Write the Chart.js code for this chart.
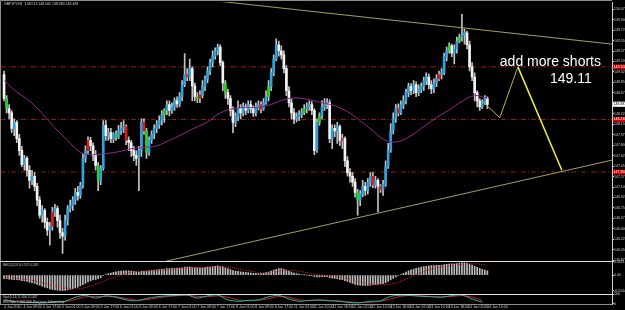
<!DOCTYPE html>
<html><head><meta charset="utf-8">
<script src="https://cdn.jsdelivr.net/npm/chart.js@4/dist/chart.umd.min.js"></script>
<style>html,body{margin:0;padding:0;background:#000;overflow:hidden}canvas{display:block}</style>
</head><body>
<div style="width:625px;height:310px"><canvas id="c" width="625" height="310"></canvas></div>
<script>
const symbolTitle = "GBPJPY,H1  148.513 148.565 148.380 148.483";
const macdTitle = "MACD(12,26,9) 0.1371 0.2085";
const stochTitle = "Stoch(5,3,3) 11.9166 15.1487";
const copyright = "MetaTrader \u00A9 2001-2009 MetaQuotes Software Corp.";

const firstOpen = 148.98;
const closes = [
148.58,148.41,148.34,148.08,148.18,147.91,147.71,147.48,147.58,147.38,
147.21,147.28,147.11,146.88,146.63,146.71,146.51,146.38,146.44,146.68,
146.74,146.54,146.34,146.28,146.54,146.74,146.79,146.88,147.01,146.96,
147.13,147.58,147.71,147.88,147.79,147.63,147.46,147.21,147.41,148.13,
147.96,148.01,147.91,147.98,147.94,148.04,148.08,148.11,147.88,147.84,
147.71,147.63,147.58,147.71,148.18,148.04,147.68,147.88,147.98,148.08,
148.14,148.21,148.31,148.38,148.48,148.38,148.44,148.54,148.49,148.61,
148.81,148.98,148.94,149.08,148.79,148.61,148.58,148.64,148.78,148.91,
149.04,149.18,149.29,149.38,149.44,149.18,148.84,148.68,148.58,148.38,
148.18,148.28,148.41,148.34,148.44,148.38,148.48,148.41,148.34,148.44,
148.48,148.41,148.51,148.61,148.78,149.01,149.24,149.48,149.38,149.31,
149.08,148.71,148.51,148.34,148.24,148.28,148.31,148.34,148.41,148.44,
148.48,148.38,147.71,148.18,148.29,148.44,148.48,148.51,147.91,148.08,
148.04,148.11,147.88,147.91,147.54,147.34,147.28,147.18,147.01,146.88,
146.98,147.11,147.04,147.18,147.28,147.14,147.21,147.11,147.06,147.14,
147.44,147.71,148.04,148.24,148.41,148.34,148.48,148.54,148.68,148.78,
148.71,148.81,148.68,148.74,148.78,148.88,148.94,148.81,148.74,148.84,
148.91,148.98,149.01,149.28,149.38,149.46,149.34,149.41,149.54,149.61,
149.64,149.68,149.48,149.11,148.94,148.68,148.54,148.44,148.51,148.58,
148.48];
const highs = [
149.04,148.63,148.48,148.38,148.24,148.21,147.98,147.78,147.63,147.61,
147.46,147.38,147.34,147.16,146.94,146.79,146.74,146.58,146.51,146.76,
146.81,146.78,146.63,146.41,146.63,146.79,146.88,146.94,147.08,147.11,
147.18,147.66,147.79,147.94,147.93,147.84,147.71,147.51,147.46,148.21,
148.21,148.08,148.08,148.01,148.04,148.13,148.18,148.21,148.14,147.94,
147.88,147.78,147.71,147.78,148.24,148.24,148.08,147.94,148.04,148.14,
148.21,148.29,148.38,148.41,148.54,148.54,148.51,148.59,148.61,148.68,
148.88,149.33,149.08,149.24,149.11,148.84,148.68,148.71,148.88,148.96,
149.11,149.24,149.38,149.43,149.49,149.48,149.21,148.88,148.74,148.63,
148.44,148.34,148.54,148.48,148.51,148.49,148.54,148.54,148.46,148.51,
148.54,148.53,148.58,148.71,148.88,149.08,149.31,149.58,149.54,149.46,
149.38,149.13,148.78,148.58,148.41,148.34,148.38,148.41,148.48,148.51,
148.54,148.53,148.41,148.24,148.34,148.54,148.58,148.58,148.56,148.14,
148.14,148.18,148.14,147.98,147.94,147.61,147.41,147.34,147.24,147.06,
147.04,147.21,147.18,147.24,147.34,147.34,147.28,147.24,147.14,147.21,
147.54,147.83,148.16,148.34,148.48,148.49,148.54,148.63,148.74,148.84,
148.83,148.88,148.86,148.81,148.84,148.94,149.01,148.99,148.88,148.91,
148.98,149.04,149.08,149.34,149.44,149.51,149.49,149.48,149.61,149.66,
149.99,149.74,149.71,149.54,149.18,149.01,148.71,148.58,148.56,148.63,
148.61];
const lows = [
148.54,148.34,148.24,148.01,147.96,147.84,147.63,147.44,147.38,147.28,
147.08,147.14,147.04,146.79,146.58,146.51,146.41,146.29,146.13,146.38,
146.61,146.43,146.24,145.99,146.21,146.46,146.68,146.71,146.81,146.88,
146.91,147.08,147.51,147.66,147.71,147.54,147.38,147.04,147.14,147.38,
147.88,147.88,147.84,147.84,147.88,147.91,147.98,148.01,147.81,147.71,
147.61,147.54,147.46,147.04,147.61,147.98,147.58,147.63,147.83,147.91,
148.01,148.08,148.14,148.18,148.31,148.29,148.33,148.38,148.43,148.44,
148.54,148.78,148.88,148.88,148.54,148.54,148.51,148.51,148.59,148.71,
148.84,148.98,149.11,149.24,149.31,149.13,148.71,148.58,148.48,148.29,
148.01,148.11,148.21,148.24,148.29,148.31,148.34,148.34,148.28,148.29,
148.39,148.34,148.38,148.48,148.54,148.71,148.96,149.21,149.29,149.24,
149.01,148.63,148.44,148.24,148.16,148.19,148.21,148.26,148.31,148.34,
148.38,148.31,147.64,147.68,148.13,148.24,148.38,148.41,147.84,147.74,
147.94,147.83,147.79,147.74,147.44,147.28,147.18,147.11,146.93,146.63,
146.79,146.94,146.96,146.98,147.11,147.09,147.08,146.68,147.01,146.96,
147.11,147.41,147.68,147.99,148.18,148.29,148.31,148.41,148.49,148.61,
148.64,148.66,148.61,148.63,148.68,148.71,148.81,148.74,148.66,148.68,
148.78,148.88,148.91,148.98,149.21,149.34,149.28,149.16,149.34,149.51,
149.54,149.49,149.41,149.04,148.88,148.54,148.44,148.38,148.41,148.48,
148.41];
const greenBars = [1,37,44,56,63,76,87,104,118,124,139,175,179];
const redBars = [19,33,48,55,72,77,101,133,145,148,155,171];

const maStep = 5;
const maValues = [
148.88,148.69,148.54,148.33,148.09,147.88,147.68,147.64,147.66,147.69,
147.74,147.76,147.79,147.88,147.98,148.09,148.19,148.34,148.41,148.43,
148.43,148.48,148.56,148.59,148.56,148.51,148.46,148.36,148.21,148.04,
147.88,147.86,147.96,148.11,148.26,148.39,148.53,148.63,148.58];

const macdHist = [
-0.12,-0.12,-0.13,-0.14,-0.15,-0.15,-0.16,-0.18,-0.19,-0.21,
-0.23,-0.25,-0.27,-0.30,-0.33,-0.36,-0.39,-0.42,-0.45,-0.47,
-0.48,-0.49,-0.50,-0.51,-0.50,-0.48,-0.46,-0.44,-0.41,-0.39,
-0.35,-0.31,-0.27,-0.22,-0.19,-0.16,-0.14,-0.12,-0.08,-0.02,
0.02,0.05,0.07,0.09,0.11,0.12,0.13,0.14,0.14,0.14,
0.13,0.12,0.11,0.10,0.12,0.13,0.13,0.14,0.15,0.16,
0.17,0.18,0.19,0.20,0.21,0.21,0.22,0.22,0.23,0.23,
0.24,0.26,0.26,0.27,0.26,0.25,0.24,0.24,0.24,0.25,
0.26,0.27,0.28,0.29,0.30,0.29,0.27,0.24,0.21,0.18,
0.15,0.13,0.12,0.11,0.10,0.09,0.08,0.07,0.06,0.06,
0.05,0.05,0.06,0.08,0.10,0.13,0.16,0.19,0.21,0.21,
0.19,0.16,0.13,0.10,0.07,0.05,0.03,0.02,0.01,0.00,
-0.01,-0.02,-0.05,-0.06,-0.06,-0.05,-0.05,-0.05,-0.08,-0.10,
-0.11,-0.12,-0.14,-0.15,-0.18,-0.21,-0.24,-0.27,-0.30,-0.32,
-0.33,-0.34,-0.34,-0.34,-0.33,-0.32,-0.31,-0.30,-0.29,-0.28,
-0.25,-0.21,-0.16,-0.11,-0.06,-0.02,0.02,0.06,0.10,0.14,
0.17,0.20,0.22,0.24,0.26,0.28,0.29,0.30,0.31,0.31,
0.32,0.32,0.32,0.34,0.35,0.36,0.37,0.37,0.38,0.39,
0.40,0.40,0.39,0.36,0.33,0.29,0.25,0.22,0.19,0.16,
0.14];
const sigStep = 5;
const macdSignal = [
-0.08,-0.11,-0.16,-0.25,-0.35,-0.43,-0.44,-0.33,-0.17,-0.03,
0.09,0.12,0.14,0.18,0.21,0.24,0.25,0.27,0.24,0.16,
0.09,0.08,0.15,0.14,0.06,0.00,-0.05,-0.11,-0.22,-0.30,
-0.31,-0.23,-0.06,0.12,0.24,0.30,0.35,0.37,0.32];

const stochStep = 4;
const stochK = [
40,20,15,10,8,20,25,70,90,60,
85,70,40,30,55,75,85,90,95,60,
85,95,40,25,35,40,75,90,50,25,
35,40,30,25,10,8,25,30,80,92,
88,80,75,70,88,95,50,15];
const stochD = [
45,28,18,12,10,14,22,45,75,78,
75,75,55,38,42,60,78,86,92,80,
75,85,70,40,32,36,55,78,70,40,
32,36,35,28,18,12,15,25,50,80,
88,85,78,73,78,88,72,35];

const priceTicks = [150.075,149.900,149.725,149.550,149.375,149.200,149.025,148.850,148.675,148.500,148.325,148.150,147.975,147.800,147.625,147.450,147.275,147.100,146.925,146.750,146.575,146.400,146.225,146.050,145.875];
const macdTicks = [0.43, 0, -0.51];
const macdTickLabels = ["0.4321","0.00","-0.5144"];
const stochTicks = [100, 0];

const labelStep = 7.6;
const xLabels = ["4 Jan 2010","4 Jan 09:00","4 Jan 17:00","5 Jan 01:00","5 Jan 09:00","5 Jan 17:00","6 Jan 01:00","6 Jan 09:00","6 Jan 17:00","7 Jan 01:00","7 Jan 09:00","7 Jan 17:00","8 Jan 01:00","8 Jan 09:00","8 Jan 17:00","11 Jan 02:00","11 Jan 10:00","11 Jan 18:00","12 Jan 02:00","12 Jan 10:00","12 Jan 18:00","13 Jan 02:00","13 Jan 10:00","13 Jan 18:00","14 Jan 02:00","14 Jan 10:00"];

const levelLines = [149.11, 148.23, 147.35];
const levelLabels = ["149.110","148.230","147.350"];
const currentPrice = 148.483;
const trendUpper = [[83.9,150.21],[239,149.49]];
const trendLower = [[63.8,145.86],[239,147.55]];
const zigzag = [[187.8,148.54],[194.9,148.26],[202,149.11]];
const arrowPath = [[202,149.11],[219.3,147.38]];
const notes = [
  {text:"add more shorts", x:194.9, y:149.13},
  {text:"149.11", x:214.6, y:148.845}
];

// ---------- build ----------
const opens = closes.map((c,i)=> i===0 ? firstOpen : closes[i-1]);
const bodyColors = closes.map((c,i)=>{
  if (greenBars.includes(i)) return '#27d327';
  if (redBars.includes(i)) return '#d51f1f';
  return c < opens[i] ? '#f4f4f4' : '#2fa2de';
});
const pts = arr => arr.map(p=>({x:p[0],y:p[1]}));
const xMin = -1.2, xMax = 239;

const lineDs = (data, color, yAxisID, extra) => Object.assign({
  type:'line', data, borderColor:color, borderWidth:1, pointRadius:0, fill:false,
  xAxisID:'x', yAxisID, tension:0, order:1
}, extra||{});

const datasets = [
  // level lines (back)
  ...levelLines.map(v => lineDs([{x:xMin,y:v},{x:xMax,y:v}], '#8e1d1d', 'y', {borderDash:[5,2,1,2], order:20})),
  {type:'bar', data: closes.map((c,i)=>({x:i, y:[lows[i], highs[i]]})), backgroundColor:'#c4c4c4',
   barThickness:1, grouped:false, xAxisID:'x', yAxisID:'y', order:10},
  {type:'bar', data: closes.map((c,i)=>({x:i, y:[opens[i], c]})), backgroundColor:bodyColors,
   barThickness:2, minBarLength:1, grouped:false, xAxisID:'x', yAxisID:'y', order:9},
  lineDs(maValues.map((v,k)=>({x:k*maStep,y:v})), '#96288f', 'y', {tension:0.4, order:5}),
  lineDs(pts(trendUpper), '#a3a05a', 'y'),
  lineDs(pts(trendLower), '#a3a05a', 'y'),
  lineDs(pts(zigzag), '#b7b546', 'y'),
  lineDs(pts(arrowPath), '#f2f23a', 'y', {borderWidth:1.5}),
  {type:'bar', data: macdHist.map((v,i)=>({x:i, y:v})), backgroundColor:'#bdbdbd',
   barThickness:1, grouped:false, xAxisID:'x', yAxisID:'macd', order:10},
  lineDs(macdSignal.map((v,k)=>({x:k*sigStep,y:v})), '#d02020', 'macd', {borderDash:[1,1], tension:0.4}),
  lineDs(stochK.map((v,k)=>({x:k*stochStep,y:v})), '#26b3a5', 'sto', {tension:0.3}),
  lineDs(stochD.map((v,k)=>({x:k*stochStep,y:v})), '#d02020', 'sto', {tension:0.3})
];

const tinyFont = {family:"'Liberation Sans', Arial, sans-serif", size:3.5};
const rightAxis = (extra) => Object.assign({
  position:'right', stack:'panels', offset:false,
  grid:{display:true, drawOnChartArea:false, tickLength:2, color:'#cfcfcf'},
  border:{display:true, color:'#cfcfcf'},
  ticks:{color:'#cfcfcf', font:tinyFont, padding:0, autoSkip:false},
  afterFit(s){ s.width = 13; }
}, extra);

const decorPlugin = {
  id:'decor',
  beforeDraw(chart){
    const c = chart.ctx; c.save(); c.fillStyle = '#000'; c.fillRect(0,0,chart.width,chart.height); c.restore();
  },
  afterDraw(chart){
    const ctx = chart.ctx, a = chart.chartArea, xs = chart.scales.x, ys = chart.scales.y, ms = chart.scales.macd;
    ctx.save();
    // frame + panel separators
    ctx.lineWidth = 1;
    ctx.strokeStyle = '#8c8c8c';
    ctx.beginPath();
    ctx.moveTo(0.5, 0.5); ctx.lineTo(a.right, 0.5);
    ctx.moveTo(0.5, 0.5); ctx.lineTo(0.5, a.bottom);
    ctx.moveTo(0, Math.round(a.bottom)+0.5); ctx.lineTo(a.right, Math.round(a.bottom)+0.5);
    ctx.stroke();
    ctx.strokeStyle = '#e0e0e0';
    ctx.beginPath();
    const y1 = Math.round(ys.bottom)+0.5, y2 = Math.round(ms.bottom)+0.5;
    ctx.moveTo(0,y1); ctx.lineTo(a.right,y1);
    ctx.moveTo(0,y2); ctx.lineTo(a.right,y2);
    ctx.stroke();

    // level price labels on the axis
    ctx.font = "3.5px 'Liberation Sans', Arial, sans-serif";
    ctx.textBaseline = 'middle'; ctx.textAlign = 'left';
    levelLines.forEach((v,k)=>{
      const py = ys.getPixelForValue(v);
      ctx.fillStyle = '#cc0000'; ctx.fillRect(a.right+1, py-2.5, 12, 5);
      ctx.fillStyle = '#ffffff'; ctx.fillText(levelLabels[k], a.right+1.5, py);
    });
    const cp = ys.getPixelForValue(currentPrice);
    ctx.fillStyle = '#ffffff'; ctx.fillRect(a.right+1, cp-2.5, 12, 5);
    ctx.fillStyle = '#000000'; ctx.fillText(currentPrice.toFixed(3), a.right+1.5, cp);

    // tiny panel titles
    ctx.fillStyle = '#cfcfcf';
    ctx.textBaseline = 'top';
    ctx.fillText(symbolTitle, 4, 2.5);
    ctx.font = "2.6px 'Liberation Sans', Arial, sans-serif";
    ctx.fillText(macdTitle, 3, ys.bottom + 2.5);
    ctx.fillText(stochTitle, 3, ms.bottom + 1.5);
    ctx.fillText(copyright, 3, ms.bottom + 6.5);

    // annotation texts
    ctx.font = "14px 'Liberation Sans', Arial, sans-serif";
    ctx.fillStyle = '#ffffff';
    ctx.textBaseline = 'alphabetic'; ctx.textAlign = 'left';
    notes.forEach(n => ctx.fillText(n.text, xs.getPixelForValue(n.x), ys.getPixelForValue(n.y)));
    ctx.restore();
  }
};

new Chart(document.getElementById('c'), {
  type:'bar',
  data:{datasets},
  options:{
    responsive:false, animation:false, devicePixelRatio:1,
    layout:{padding:{top:1,left:1,right:0,bottom:0}},
    plugins:{legend:{display:false}, tooltip:{enabled:false}},
    scales:{
      x:{type:'linear', min:xMin, max:xMax, offset:false, position:'bottom',
         grid:{display:false, drawTicks:false}, border:{display:false},
         afterBuildTicks(s){ s.ticks = xLabels.map((l,k)=>({value:k*labelStep})); },
         ticks:{color:'#cfcfcf', font:tinyFont, padding:1, align:'start', autoSkip:false, maxRotation:0, minRotation:0,
                callback:(v,i)=>xLabels[i]},
         afterFit(s){ s.height = 6; }},
      y: rightAxis({min:145.86, max:150.193, stackWeight:260,
         afterBuildTicks(s){ s.ticks = priceTicks.map(v=>({value:v})); },
         ticks:{color:'#cfcfcf', font:tinyFont, padding:0, autoSkip:false, callback:v=>Number(v).toFixed(3)}}),
      macd: rightAxis({min:-0.6175, max:0.455, stackWeight:33,
         afterBuildTicks(s){ s.ticks = macdTicks.map(v=>({value:v})); },
         ticks:{color:'#cfcfcf', font:tinyFont, padding:0, autoSkip:false, callback:(v,i)=>macdTickLabels[i]}}),
      sto: rightAxis({min:-5, max:105, stackWeight:10,
         afterBuildTicks(s){ s.ticks = stochTicks.map(v=>({value:v})); },
         ticks:{color:'#cfcfcf', font:tinyFont, padding:0, autoSkip:false, callback:v=>String(v)}})
    }
  },
  plugins:[decorPlugin]
});
</script>
</body></html>
